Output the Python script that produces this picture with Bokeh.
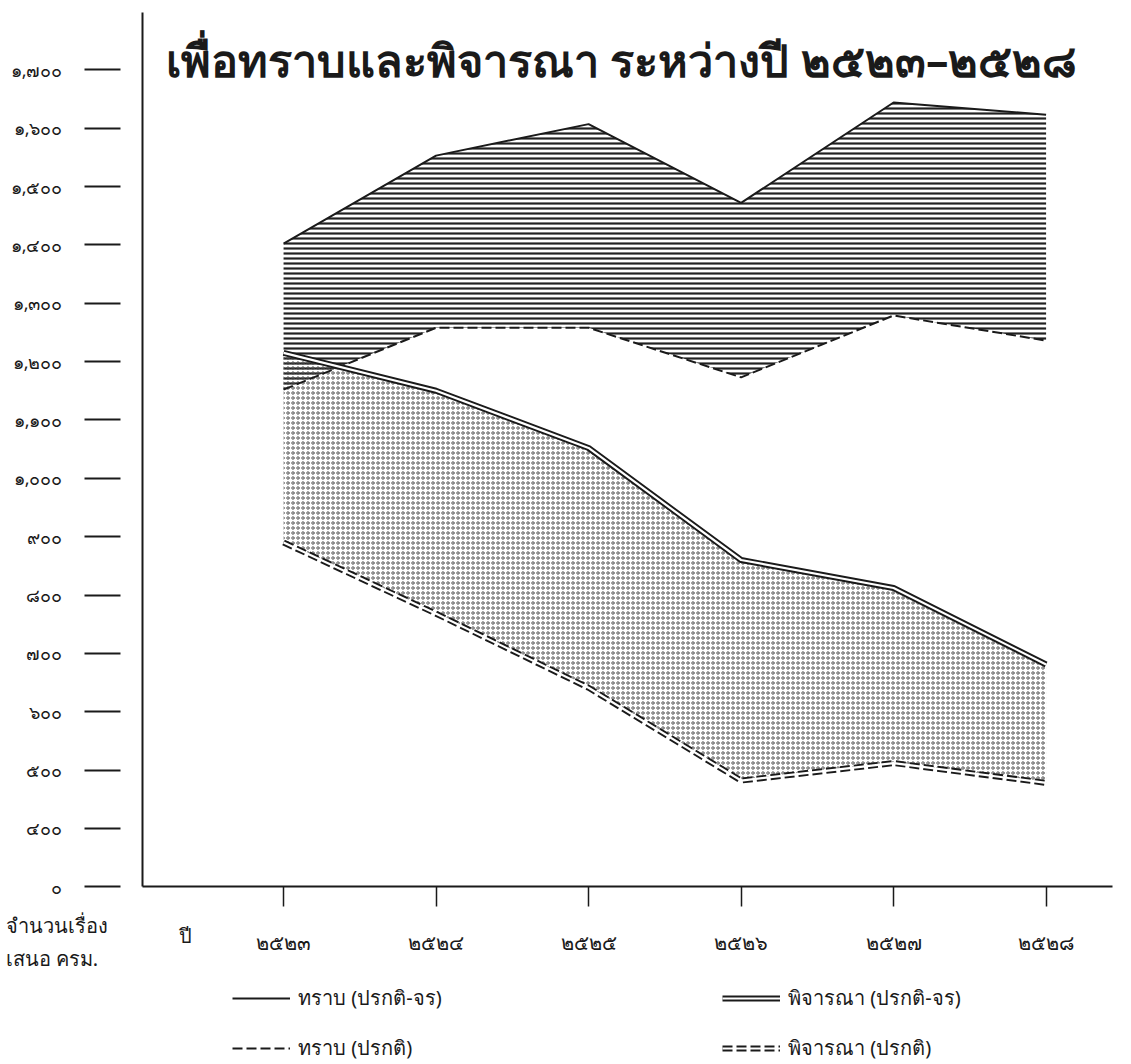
from bokeh.plotting import figure
from bokeh.models import FixedTicker, Label, Legend, LegendItem, Range1d
from bokeh.embed import file_html
from bokeh.resources import INLINE

# ---- data ----
years = [2523, 2524, 2525, 2526, 2527, 2528]
year_labels = ["๒๕๒๓", "๒๕๒๔", "๒๕๒๕", "๒๕๒๖", "๒๕๒๗", "๒๕๒๘"]
acknowledge_total = [1402, 1553, 1607, 1472, 1644, 1623]      # ทราบ (ปรกติ-จร)
acknowledge_regular = [1152, 1258, 1258, 1173, 1279, 1236]    # ทราบ (ปรกติ)
consider_total = [1215, 1150, 1052, 860, 812, 681]            # พิจารณา (ปรกติ-จร)
consider_regular = [890, 768, 641, 482, 512, 478]             # พิจารณา (ปรกติ)
# broken axis: the "0" tick sits one step below 400
y_ticks = [300, 400, 500, 600, 700, 800, 900, 1000, 1100, 1200, 1300, 1400, 1500, 1600, 1700]
y_tick_labels = ["๐", "๔๐๐", "๕๐๐", "๖๐๐", "๗๐๐", "๘๐๐", "๙๐๐", "๑,๐๐๐", "๑,๑๐๐",
                 "๑,๒๐๐", "๑,๓๐๐", "๑,๔๐๐", "๑,๕๐๐", "๑,๖๐๐", "๑,๗๐๐"]
series_names = ["ทราบ (ปรกติ-จร)", "ทราบ (ปรกติ)", "พิจารณา (ปรกติ-จร)", "พิจารณา (ปรกติ)"]
title_text = "เพื่อทราบและพิจารณา ระหว่างปี ๒๕๒๓–๒๕๒๘"
y_caption = ["จำนวนเรื่อง", "เสนอ ครม."]
x_caption = "ปี"

FONT = "Noto Sans"
INK = "#1a1a1a"

# axis placement (data units): y-axis at the left edge of the drawing, x-axis at the "0" tick
X_AXIS_AT = 300
Y_AXIS_AT = 2522.075
X_END = 2528.436
Y_END = 1798

p = figure(width=1131, height=1064, output_backend="svg", toolbar_location=None,
           x_range=Range1d(2521.144, 2528.56), y_range=Range1d(-4.6, 1818.85),
           min_border=0, min_border_left=0, min_border_right=0,
           min_border_top=0, min_border_bottom=0)
p.outline_line_color = None
p.grid.visible = False
p.background_fill_color = "white"
p.border_fill_color = "white"

# ---- filled bands ----
p.varea(x=years, y1=acknowledge_regular, y2=acknowledge_total, fill_alpha=0,
        hatch_pattern="horizontal_line", hatch_scale=5, hatch_weight=2.2, hatch_color="#222222")
p.varea(x=years, y1=consider_regular, y2=consider_total, fill_alpha=0,
        hatch_pattern="ring", hatch_scale=5, hatch_weight=0.9, hatch_color="#4a4a4a")

# ---- lines ----
r_ack_total = p.line(years, acknowledge_total, line_color=INK, line_width=2)
r_ack_reg = p.line(years, acknowledge_regular, line_color=INK, line_width=2, line_dash="10 4")
r_con_total_a = p.line(years, consider_total, line_color=INK, line_width=6)
r_con_total_b = p.line(years, consider_total, line_color="white", line_width=2.2)
r_con_reg_a = p.line(years, consider_regular, line_color=INK, line_width=6, line_dash="10 4")
r_con_reg_b = p.line(years, consider_regular, line_color="white", line_width=2.2)

# ---- axes ----
xa = p.xaxis[0]
xa.fixed_location = X_AXIS_AT
xa.bounds = (Y_AXIS_AT, X_END)
xa.ticker = FixedTicker(ticks=years)
xa.major_label_overrides = {y: l for y, l in zip(years, year_labels)}
xa.axis_line_width = 2
xa.axis_line_color = INK
xa.major_tick_in = 0
xa.major_tick_out = 20
xa.major_tick_line_width = 1.5
xa.major_tick_line_color = INK
xa.minor_tick_line_color = None
xa.major_label_standoff = 22
xa.major_label_text_font = FONT
xa.major_label_text_font_size = "20px"
xa.major_label_text_color = INK

ya = p.yaxis[0]
ya.fixed_location = Y_AXIS_AT
ya.bounds = (X_AXIS_AT, Y_END)
ya.ticker = FixedTicker(ticks=y_ticks)
ya.major_label_overrides = {t: l for t, l in zip(y_ticks, y_tick_labels)}
ya.axis_line_width = 2
ya.axis_line_color = INK
ya.major_tick_in = -22
ya.major_tick_out = 58
ya.major_tick_line_width = 2
ya.major_tick_line_color = INK
ya.minor_tick_line_color = None
ya.major_label_standoff = 22
ya.major_label_text_font = FONT
ya.major_label_text_font_size = "18px"
ya.major_label_text_color = INK

# ---- texts ----
p.add_layout(Label(x=165, y=1005, x_units="screen", y_units="screen", text=title_text,
                   text_font=FONT, text_font_size="45px", text_font_style="bold",
                   text_color=INK, text_baseline="middle"))
p.add_layout(Label(x=5, y=139, x_units="screen", y_units="screen", text=y_caption[0],
                   text_font=FONT, text_font_size="20px", text_color=INK, text_baseline="middle"))
p.add_layout(Label(x=5, y=106, x_units="screen", y_units="screen", text=y_caption[1],
                   text_font=FONT, text_font_size="20px", text_color=INK, text_baseline="middle"))
p.add_layout(Label(x=178, y=129, x_units="screen", y_units="screen", text=x_caption,
                   text_font=FONT, text_font_size="20px", text_color=INK, text_baseline="middle"))

# ---- legend ----
legend = Legend(items=[
    LegendItem(label=series_names[0], renderers=[r_ack_total]),
    LegendItem(label=series_names[1], renderers=[r_ack_reg]),
    LegendItem(label=series_names[2], renderers=[r_con_total_a, r_con_total_b]),
    LegendItem(label=series_names[3], renderers=[r_con_reg_a, r_con_reg_b]),
], orientation="vertical", nrows=2, location=(232, 0),
    glyph_width=58, glyph_height=18, label_height=18, label_width=406, label_standoff=8,
    spacing=18, padding=0, margin=0, border_line_alpha=0, background_fill_alpha=0,
    label_text_font=FONT, label_text_font_size="20px", label_text_color=INK)
p.add_layout(legend, "center")

open("out.html", "w").write(file_html(p, INLINE))
